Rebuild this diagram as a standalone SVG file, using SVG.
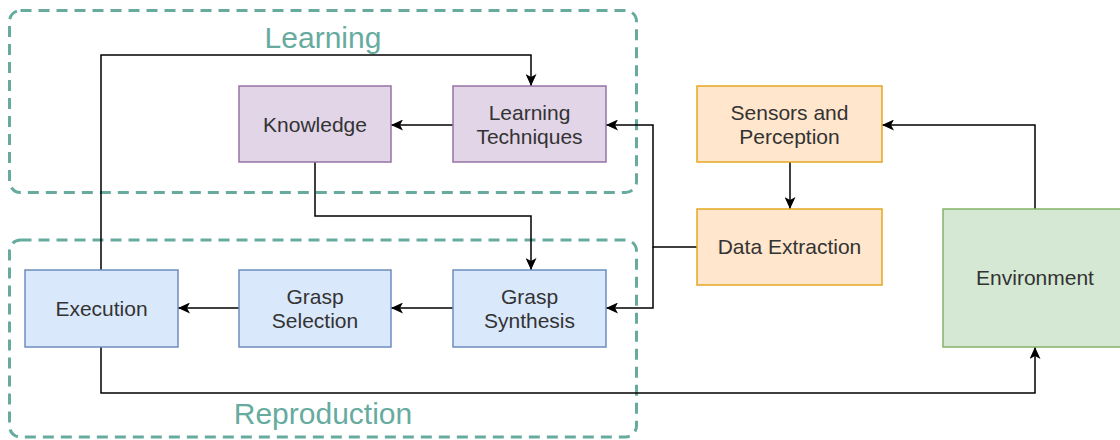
<svg xmlns="http://www.w3.org/2000/svg" width="1120" height="440" viewBox="0 0 1120 440">
  <defs>
    <marker id="arrow" viewBox="0 0 12 11" refX="12" refY="5.5" markerWidth="12" markerHeight="11" markerUnits="userSpaceOnUse" orient="auto">
      <path d="M0,0 L12,5.5 L0,11 L3,5.5 Z" fill="#000"/>
    </marker>
  </defs>
  <style>
    .grp { fill: none; stroke: #67ab9f; stroke-width: 3; stroke-dasharray: 11 7; }
    .grp-label { font-family: "Liberation Sans", Arial, sans-serif; font-size: 30px; fill: #67ab9f; text-anchor: middle; }
    .box { stroke-width: 1.5; }
    .purple { fill: #e1d5e7; stroke: #9673a6; }
    .blue { fill: #dae8fc; stroke: #6c8ebf; }
    .orange { fill: #ffe6cc; stroke: #e3a823; }
    .green { fill: #d5e8d4; stroke: #82b366; }
    .lbl { font-family: "Liberation Sans", Arial, sans-serif; font-size: 21px; fill: #333; text-anchor: middle; }
    .edge { fill: none; stroke: #000; stroke-width: 1.5; }
  </style>

  <rect width="1120" height="440" fill="#fff"/>

  <!-- group containers -->
  <g id="group-learning">
    <rect class="grp" x="9.5" y="10.5" width="627" height="182" rx="11"/>
    <text class="grp-label" x="323" y="48">Learning</text>
  </g>
  <g id="group-reproduction">
    <rect class="grp" x="9.5" y="240" width="627" height="197" rx="11"/>
    <text class="grp-label" x="323" y="424">Reproduction</text>
  </g>

  <!-- connectors -->
  <g id="connectors">
    <path class="edge" d="M101,270 V55 H531 V86" marker-end="url(#arrow)"/>
    <path class="edge" d="M453,125 H391" marker-end="url(#arrow)"/>
    <path class="edge" d="M315,162 V216 H531 V270" marker-end="url(#arrow)"/>
    <path class="edge" d="M453,308 H391" marker-end="url(#arrow)"/>
    <path class="edge" d="M239,308 H178" marker-end="url(#arrow)"/>
    <path class="edge" d="M101,347 V393 H1035 V347" marker-end="url(#arrow)"/>
    <path class="edge" d="M1035,209 V125 H882" marker-end="url(#arrow)"/>
    <path class="edge" d="M790,162 V209" marker-end="url(#arrow)"/>
    <path class="edge" d="M697,247 H653 V125 H606" marker-end="url(#arrow)"/>
    <path class="edge" d="M653,247 V308 H606" marker-end="url(#arrow)"/>
  </g>

  <!-- nodes -->
  <g id="knowledge">
    <rect class="box purple" x="239" y="86" width="152" height="76"/>
    <text class="lbl" x="315" y="131.5">Knowledge</text>
  </g>
  <g id="learning-techniques">
    <rect class="box purple" x="453" y="86" width="153" height="76"/>
    <text class="lbl" x="529.5" y="119.5">Learning</text>
    <text class="lbl" x="529.5" y="143.5">Techniques</text>
  </g>
  <g id="sensors-perception">
    <rect class="box orange" x="697" y="86" width="185" height="76"/>
    <text class="lbl" x="789.5" y="119.5">Sensors and</text>
    <text class="lbl" x="789.5" y="143.5">Perception</text>
  </g>
  <g id="data-extraction">
    <rect class="box orange" x="697" y="209" width="185" height="76"/>
    <text class="lbl" x="789.5" y="254">Data Extraction</text>
  </g>
  <g id="environment">
    <rect class="box green" x="943" y="209" width="178" height="138"/>
    <text class="lbl" x="1035" y="284.5">Environment</text>
  </g>
  <g id="execution">
    <rect class="box blue" x="25" y="270" width="153" height="77"/>
    <text class="lbl" x="101.5" y="315.5">Execution</text>
  </g>
  <g id="grasp-selection">
    <rect class="box blue" x="239" y="270" width="152" height="77"/>
    <text class="lbl" x="315" y="303.5">Grasp</text>
    <text class="lbl" x="315" y="327.5">Selection</text>
  </g>
  <g id="grasp-synthesis">
    <rect class="box blue" x="453" y="270" width="153" height="77"/>
    <text class="lbl" x="529.5" y="303.5">Grasp</text>
    <text class="lbl" x="529.5" y="327.5">Synthesis</text>
  </g>
</svg>
